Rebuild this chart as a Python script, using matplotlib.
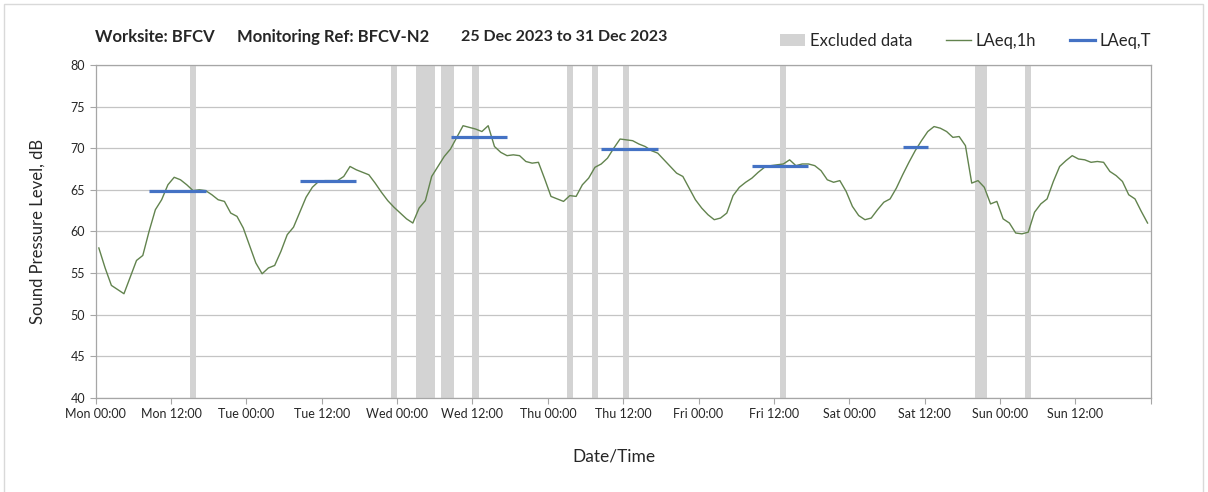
import numpy as np
import matplotlib
matplotlib.use('Agg')
import matplotlib.pyplot as plt
from matplotlib.patches import Patch, Rectangle
from matplotlib.lines import Line2D

plt.rcParams['font.family'] = ['Lato', 'DejaVu Sans']

# hourly LAeq,1h, plotted at mid-hour (hours from Mon 00:00)
laeq_1h = [
    58.0, 55.6, 53.5, 53.0, 52.5, 54.5, 56.5, 57.1, 60.0, 62.6,
    63.8, 65.6, 66.5, 66.2, 65.6, 64.9, 65.0, 64.9, 64.4, 63.8,
    63.6, 62.2, 61.8, 60.4, 58.3, 56.2, 54.9, 55.6, 55.9, 57.6,
    59.6, 60.5, 62.3, 64.1, 65.3, 66.0, 66.1, 66.1, 66.1, 66.6,
    67.8, 67.4, 67.1, 66.8, 65.8, 64.7, 63.7, 62.9, 62.2, 61.5,
    61.0, 62.8, 63.7, 66.6, 67.8, 69.0, 69.9, 71.3, 72.7, 72.5,
    72.3, 72.0, 72.7, 70.2, 69.5, 69.1, 69.2, 69.1, 68.4, 68.2,
    68.3, 66.3, 64.2, 63.9, 63.6, 64.3, 64.2, 65.6, 66.4, 67.7,
    68.1, 68.8, 70.0, 71.1, 71.0, 70.9, 70.5, 70.2, 69.7, 69.4,
    68.6, 67.8, 67.0, 66.6, 65.2, 63.8, 62.8, 62.0, 61.4, 61.6,
    62.2, 64.3, 65.3, 65.9, 66.4, 67.1, 67.7, 67.9, 68.0, 68.1,
    68.6, 67.9, 68.1, 68.1, 67.9, 67.3, 66.2, 65.9, 66.1, 64.8,
    63.0, 61.9, 61.4, 61.6, 62.6, 63.5, 63.9, 65.2, 66.8, 68.3,
    69.7, 70.9, 72.0, 72.6, 72.4, 72.0, 71.3, 71.4, 70.3, 65.8,
    66.1, 65.3, 63.3, 63.6, 61.5, 61.0, 59.8, 59.7, 59.9, 62.3,
    63.3, 63.9, 66.0, 67.8, 68.5, 69.1, 68.7, 68.6, 68.3, 68.4,
    68.3, 67.2, 66.7, 66.0, 64.4, 63.9, 62.4, 61.0,
]
hours = np.arange(len(laeq_1h)) + 0.5

# daytime LAeq,T periods (start hour, end hour, level)
laeq_t_start = [8.5, 32.5, 56.5, 80.5, 104.5, 128.5]
laeq_t_end = [17.5, 41.5, 65.5, 89.5, 113.5, 132.5]
laeq_t_level = [64.8, 66.0, 71.4, 69.9, 67.8, 70.2]

# excluded data periods (hours)
excl_start = [15, 47, 51, 55, 60, 75, 79, 84, 109, 140, 148]
excl_end = [16, 48, 54, 57, 61, 76, 80, 85, 110, 142, 149]

days = ['Mon', 'Tue', 'Wed', 'Thu', 'Fri', 'Sat', 'Sun']
tick_labels = []
for d in days:
    tick_labels += [d + ' 00:00', d + ' 12:00']
tick_labels.append('')

W, H = 1208, 492
fig = plt.figure(figsize=(W / 100, H / 100), dpi=100)
ax = fig.add_axes([95.7 / W, 1 - 397.7 / H, (1150.7 - 95.7) / W, (397.7 - 65) / H])

green = '#62834e'
blue = '#4472c4'
excl_col = '#d3d3d3'
txt = '#262626'

for s, e in zip(excl_start, excl_end):
    ax.axvspan(s, e, color=excl_col, lw=0, zorder=1)

ax.plot(hours, laeq_1h, color=green, lw=1.0, zorder=3)
for s, e, v in zip(laeq_t_start, laeq_t_end, laeq_t_level):
    ax.plot([s, e], [v, v], color=blue, lw=2.3, solid_capstyle='butt', zorder=4)

ax.set_xlim(0, 168)
ax.set_ylim(40, 80)
ax.set_yticks(np.arange(40, 81, 5))
ax.set_xticks(np.arange(0, 169, 12))
ax.set_xticklabels(tick_labels)
ax.set_xticks(np.arange(0, 169, 24), minor=True)
ax.tick_params(axis='x', which='minor', length=0)
ax.tick_params(axis='both', which='major', labelsize=9, colors='#a6a6a6',
               labelcolor=txt, length=4, width=0.8, direction='out')
ax.grid(axis='y', color='#c4c4c4', lw=0.9, zorder=0)
ax.grid(axis='x', which='minor', color='#dcdcdc', lw=0.9, zorder=0)
ax.set_axisbelow(True)
for sp in ax.spines.values():
    sp.set_color('#a6a6a6')
    sp.set_linewidth(0.9)

ax.set_ylabel('Sound Pressure Level, dB', fontsize=12, color=txt, labelpad=18)
fig.text(614 / W, 1 - 457 / H, 'Date/Time', fontsize=12.5, color=txt,
         ha='center', va='center')

ty = 1 - 37 / H
fig.text(95 / W, ty, 'Worksite: BFCV', fontsize=12, fontweight='bold', color=txt, va='center')
fig.text(237 / W, ty, 'Monitoring Ref: BFCV-N2', fontsize=12, fontweight='bold', color=txt, va='center')
fig.text(461 / W, ty, '25 Dec 2023 to 31 Dec 2023', fontsize=11.5, fontweight='bold', color=txt, va='center')

handles = [Patch(facecolor=excl_col, edgecolor='none'),
           Line2D([], [], color=green, lw=1.0),
           Line2D([], [], color=blue, lw=2.3)]
labels = ['Excluded data', 'LAeq,1h', 'LAeq,T']
fig.legend(handles, labels, ncol=3, loc='center right',
           bbox_to_anchor=(1166 / W, 1 - 41 / H), frameon=False,
           fontsize=12, handlelength=1.5, handletextpad=0.3,
           columnspacing=2.0, labelcolor=txt)

fig.patches.append(Rectangle((4 / W, -0.01), (1203 - 4) / W, 1 - 4 / H + 0.01,
                             transform=fig.transFigure, fill=False,
                             edgecolor='#d9d9d9', lw=1.0))

fig.savefig('out.png', dpi=100)
